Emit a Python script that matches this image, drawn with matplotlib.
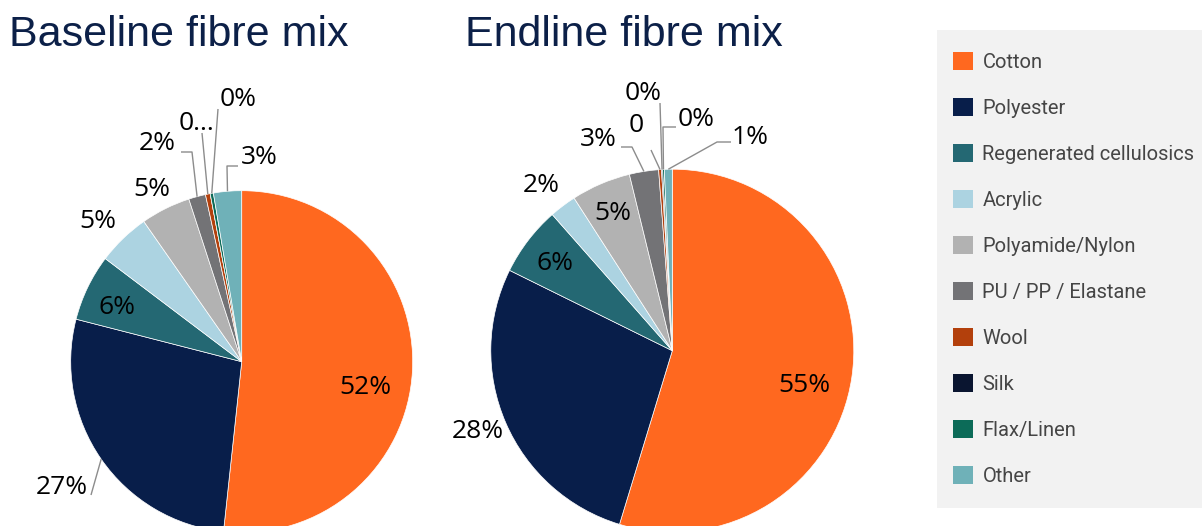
import numpy as np
import matplotlib
matplotlib.use("Agg")
import matplotlib.pyplot as plt
from matplotlib.patches import Rectangle, Patch

# ---- data ----------------------------------------------------------------
categories = ["Cotton", "Polyester", "Regenerated cellulosics", "Acrylic",
              "Polyamide/Nylon", "PU / PP / Elastane", "Wool", "Silk",
              "Flax/Linen", "Other"]
baseline_share = [51.7, 27.3, 6.3, 5.0, 4.7, 1.6, 0.45, 0.0, 0.3, 2.65]
endline_share = [54.7, 27.6, 6.2, 2.4, 5.3, 2.6, 0.25, 0.1, 0.15, 0.7]
baseline_labels = ["52%", "27%", "6%", "5%", "5%", "2%", "0...", None, "0%", "3%"]
endline_labels = ["55%", "28%", "6%", "2%", "5%", "3%", "0", "0%", "0%", "1%"]
titles = ["Baseline fibre mix", "Endline fibre mix"]

colors = ["#ff681f", "#081e4a", "#246873", "#acd3e1", "#b2b2b2",
          "#737376", "#b3400c", "#0a1530", "#0c6b58", "#6fb1b8"]

# ---- layout (pixel space, y measured from the top) ------------------------
W, H = 1202, 526
pies = [
    dict(center=(241.7, 361.7), radius=171.0, title_xy=(9, 35),
         # label centre, optional elbow points of the leader line
         labels=[((365, 387), None),
                 ((62, 487), [(91, 495)]),
                 ((117, 307), None),
                 ((98, 221), None),
                 ((152, 189), None),
                 ((157, 144), [(181, 152), (192, 152)]),
                 ((197, 123), [(202, 133)]),
                 (None, None),
                 ((238, 100), [(218, 109)]),
                 ((259, 158), [(238, 166), (227, 166)])]),
    dict(center=(672.3, 350.7), radius=181.5, title_xy=(465, 35),
         labels=[((804, 386), None),
                 ((478, 431), None),
                 ((555, 263), None),
                 ((541, 185), None),
                 ((613, 214), None),
                 ((598, 139), [(621, 147), (632, 147)]),
                 ((636, 126), [(651, 150)]),
                 ((643, 93), [(660, 103)]),
                 ((696, 119), [(676, 127), (663, 127)]),
                 ((750, 137), [(731, 142), (717, 142)])]),
]

fig = plt.figure(figsize=(W / 100, H / 100), dpi=100)
ax = fig.add_axes([0, 0, 1, 1])


def py(y):
    """Convert a top-down pixel row to the axes' bottom-up coordinate."""
    return H - y


label_font = dict(family=["Open Sans", "DejaVu Sans"], size=19, color="#000000")

for spec, shares, texts, title in zip(pies, [baseline_share, endline_share],
                                      [baseline_labels, endline_labels], titles):
    cx, cy = spec["center"]
    r = spec["radius"]
    wedges, _ = ax.pie(shares, colors=colors, startangle=90, counterclock=False,
                       center=(cx, py(cy)), radius=r, normalize=True,
                       wedgeprops=dict(edgecolor="white", linewidth=0.5))
    for wedge, text, (pos, elbow) in zip(wedges, texts, spec["labels"]):
        if text is None:
            continue
        ax.text(pos[0], py(pos[1]), text, ha="center", va="center", **label_font)
        if elbow:
            mid = np.deg2rad((wedge.theta1 + wedge.theta2) / 2)
            ex = cx + r * np.cos(mid)
            ey = py(cy) + r * np.sin(mid)
            xs = [p[0] for p in elbow] + [ex]
            ys = [py(p[1]) for p in elbow] + [ey]
            ax.plot(xs, ys, color="#8c8c8c", lw=1.0, solid_capstyle="butt")
    tx, ty = spec["title_xy"]
    ax.text(tx, py(ty), title, ha="left", va="center",
            family=["Liberation Sans", "DejaVu Sans"], size=31, color="#0c2048")

# legend panel
ax.add_patch(Rectangle((937, py(508)), W - 937, 508 - 30,
                       facecolor="#f2f2f2", edgecolor="none", zorder=0))
handles = [Patch(facecolor=c, edgecolor="none") for c in colors]
fs = 14.5
fpx = fs * 100 / 72
ax.legend(handles, categories, loc="upper left",
          bbox_to_anchor=(953 / W, py(52) / H), bbox_transform=fig.transFigure,
          frameon=False, borderpad=0, borderaxespad=0,
          prop=dict(family=["Roboto", "DejaVu Sans"], size=fs),
          labelcolor="#454545",
          handlelength=20 / fpx, handleheight=20 / fpx,
          handletextpad=9.5 / fpx, labelspacing=1.30)

ax.set_xlim(0, W)
ax.set_ylim(0, H)
ax.set_aspect("auto")
ax.axis("off")

fig.savefig("out.png", dpi=100)
